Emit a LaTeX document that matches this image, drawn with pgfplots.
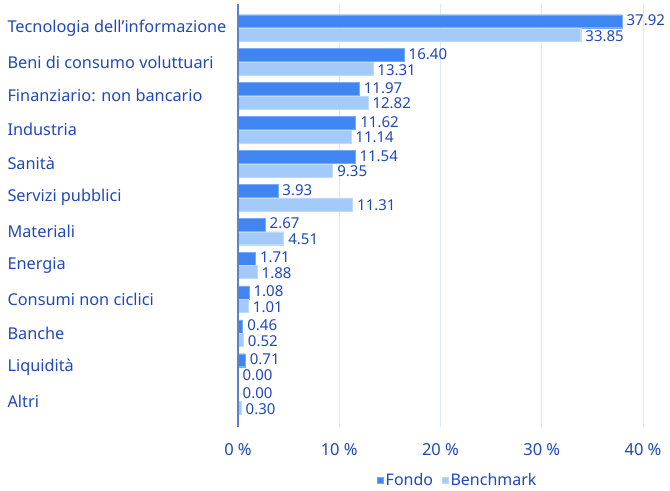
\documentclass[border=0pt]{standalone}
\usepackage{pgfplots}
\pgfplotsset{compat=1.18}
\usepackage{fontspec}
\setmainfont{Noto Sans}
\definecolor{fondo}{RGB}{64,134,242}
\definecolor{bench}{RGB}{164,202,250}
\definecolor{txt}{RGB}{33,72,184}
\definecolor{axl}{RGB}{92,128,214}
\definecolor{grd}{RGB}{220,233,250}
\begin{document}
\begin{tikzpicture}[x=1bp,y=1bp]
\useasboundingbox (-238bp,-64bp) rectangle (432bp,427bp);
\begin{axis}[
  at={(0,0)}, anchor=south west,
  scale only axis, width=405bp, height=423bp,
  xbar, bar width=13bp,
  xmin=0, xmax=40, ymin=-0.708, ymax=11.77, y dir=reverse,
  xtick={0,10,20,30,40},
  xticklabel={\pgfmathprintnumber{\tick}~\%},
  ytick={0,...,11},
  yticklabels={Tecnologia dell’informazione, Beni di consumo voluttuari, Finanziario: non bancario, Industria, Sanità, Servizi pubblici, Materiali, Energia, Consumi non ciclici, Banche, Liquidità, Altri},
  yticklabel style={anchor=west, xshift=-234bp, font=\fontsize{16.3bp}{18bp}\selectfont, text=txt},
  xticklabel style={font=\fontsize{16.5bp}{18bp}\selectfont, text=txt, yshift=-13bp},
  /pgf/number format/assume math mode=true,
  axis line style={draw=none},
  xmajorgrids, grid style={grd, line width=1bp},
  major tick length=0pt,
  nodes near coords={\pgfmathprintnumber[fixed,fixed zerofill,precision=2,assume math mode=true]{\pgfplotspointmeta}},
  point meta=x,
  nodes near coords style={font=\fontsize{15bp}{17bp}\selectfont, text=txt, inner xsep=4.5bp, inner ysep=0pt},
  legend style={draw=none, at={(0.543,-0.125)}, anchor=center, font=\fontsize{16bp}{18bp}\selectfont, text=txt, legend columns=2, /tikz/every even column/.append style={column sep=7bp}},
  legend image code/.code={\fill[#1] (0bp,-3bp) rectangle (6bp,3bp);},
  clip=false,
]
\addplot[fill=fondo, draw=fondo!70!white, bar shift=6.8bp, nodes near coords style={yshift=1bp}] coordinates {
(37.92,0) (16.40,1) (11.97,2) (11.62,3) (11.54,4) (3.93,5) (2.67,6) (1.71,7) (1.08,8) (0.46,9) (0.71,10) (0.00,11)};
\addplot[fill=bench, draw=bench!70!white, bar shift=-6.8bp, nodes near coords style={yshift=-1bp}] coordinates {
(33.85,0) (13.31,1) (12.82,2) (11.14,3) (9.35,4) (11.31,5) (4.51,6) (1.88,7) (1.01,8) (0.52,9) (0.00,10) (0.30,11)};
\legend{Fondo, Benchmark}
\draw[axl, line width=1.2bp] (axis cs:0,-0.708) -- (axis cs:0,11.77);
\end{axis}
\end{tikzpicture}
\end{document}
